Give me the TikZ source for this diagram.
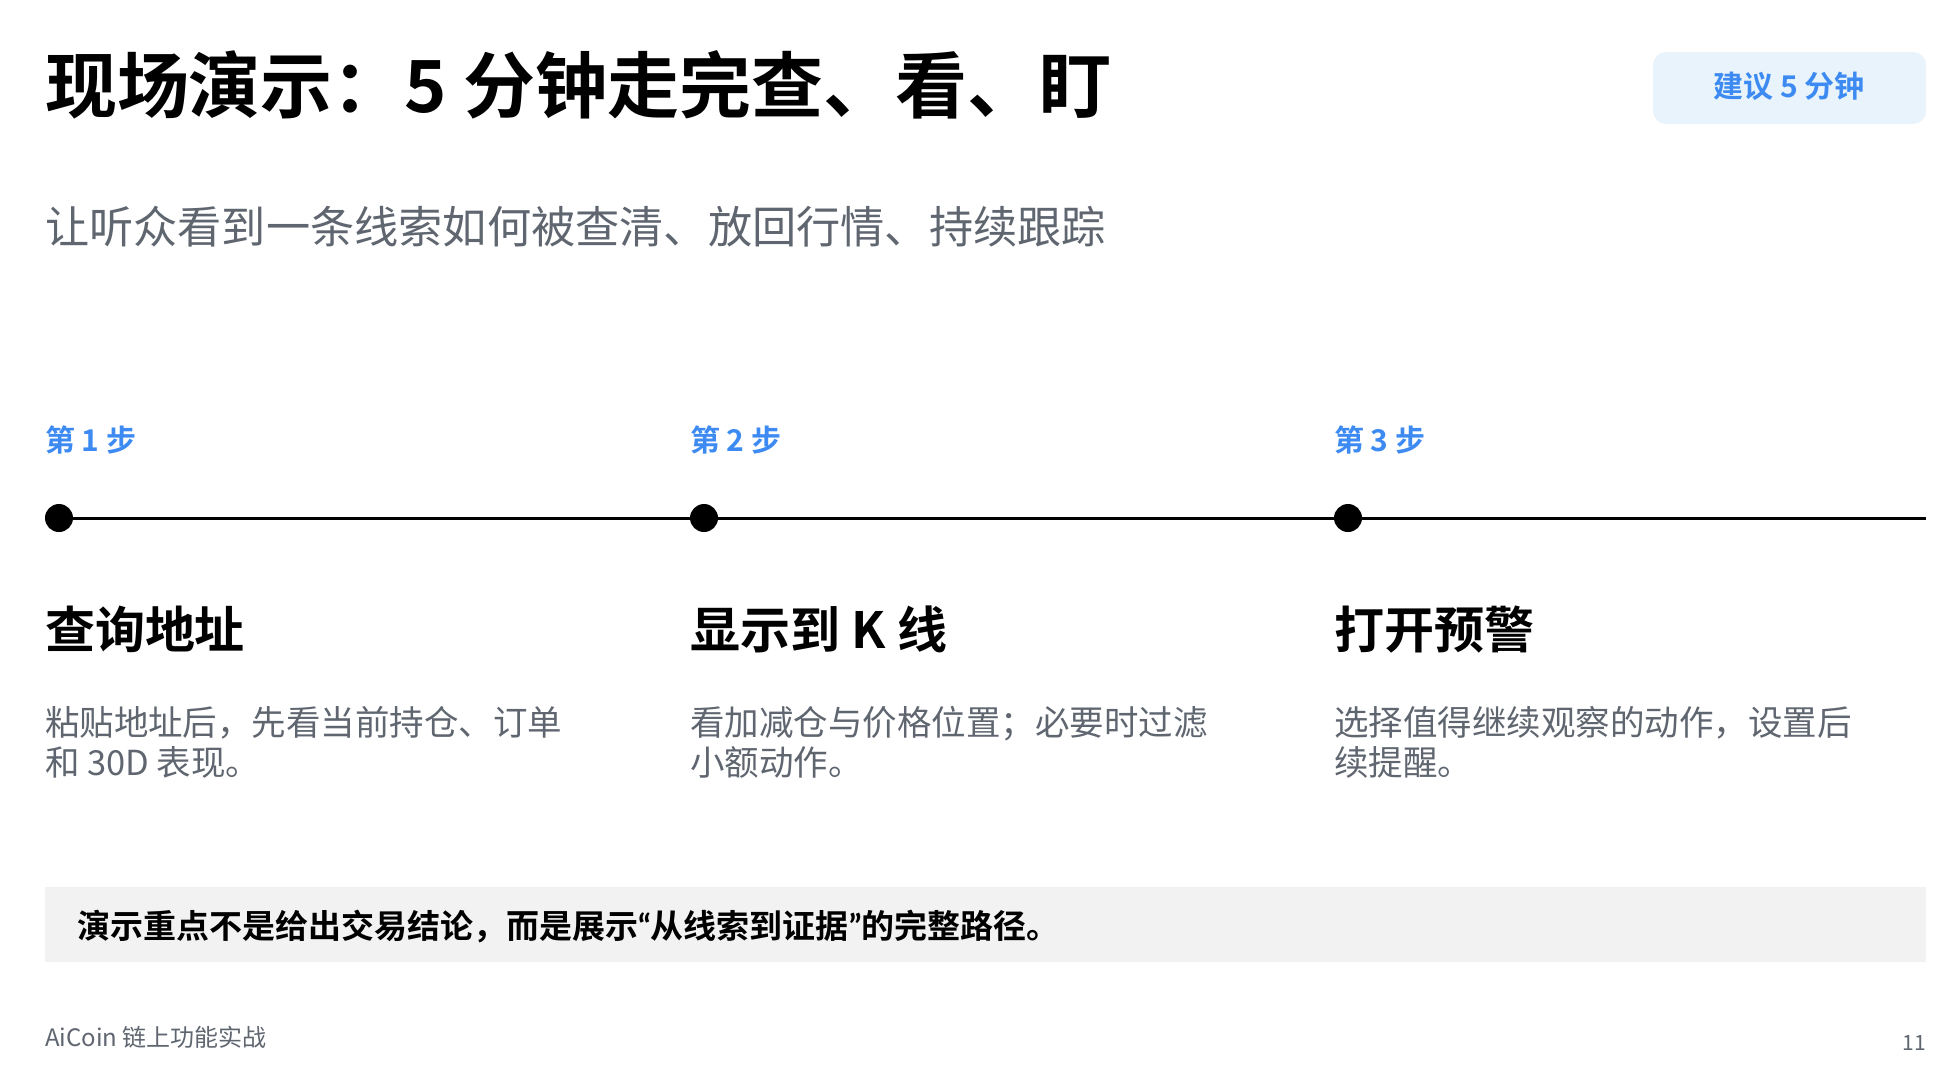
\documentclass[tikz,border=0pt]{standalone}
\usepackage{fontspec}
\setmainfont{Noto Sans CJK SC}[BoldFont={Noto Sans CJK SC Bold}]
\newfontfamily\quotefont{Lato}
\definecolor{stepblue}{HTML}{3D8BF2}
\definecolor{badgefill}{HTML}{E8F3FB}
\definecolor{graytext}{HTML}{5F6670}
\definecolor{notefill}{HTML}{F2F2F2}
\tikzset{
  txt/.style={anchor=base west, inner sep=0pt, outer sep=0pt},
  steplabel/.style={txt, font=\bfseries\fontsize{30}{34}\selectfont, text=stepblue},
  steptitle/.style={txt, font=\bfseries\fontsize{50}{58}\selectfont, text=black},
  stepdesc/.style={anchor=north west, inner sep=0pt, outer sep=0pt, align=left, font=\fontsize{34.5}{40}\selectfont, text=graytext},
  dot/.style={circle, fill=black, minimum size=28pt, inner sep=0pt},
}
\begin{document}
\begin{tikzpicture}[x=1pt,y=-1pt]
\useasboundingbox (0,0) rectangle (1957,1071);
\fill[white] (0,0) rectangle (1957,1071);

% title
\node[txt, font=\bfseries\fontsize{72}{80}\selectfont] (title) at (45,112) {现场演示：5 分钟走完查、看、盯};
% badge
\fill[badgefill, rounded corners=13pt] (1653,52) rectangle (1926,124);
\node[anchor=base, inner sep=0pt, font=\bfseries\fontsize{30}{34}\selectfont, text=stepblue] (badge) at (1789,97) {建议 5 分钟};
% subtitle
\node[txt, font=\fontsize{44.2}{50}\selectfont, text=graytext] (sub) at (45,243) {让听众看到一条线索如何被查清、放回行情、持续跟踪};

% step labels
\node[steplabel] (l1) at (45,451) {第 1 步};
\node[steplabel] (l2) at (690,451) {第 2 步};
\node[steplabel] (l3) at (1334,451) {第 3 步};

% timeline
\coordinate (tend) at (1926,518);
\node[dot] (d1) at (59,518) {};
\node[dot] (d2) at (704,518) {};
\node[dot] (d3) at (1348,518) {};
\draw[line width=3pt] (d1) -- (d2) -- (d3) -- (tend);

% step titles
\node[steptitle] (t1) at (45,648) {查询地址};
\node[steptitle] (t2) at (690,648) {显示到 K 线};
\node[steptitle] (t3) at (1334,648) {打开预警};

% descriptions
\node[stepdesc] (s1) at (45,706) {粘贴地址后，先看当前持仓、订单\\和 30D 表现。};
\node[stepdesc] (s2) at (690,706) {看加减仓与价格位置；必要时过滤\\小额动作。};
\node[stepdesc] (s3) at (1334,706) {选择值得继续观察的动作，设置后\\续提醒。};

% note box
\fill[notefill] (45,887) rectangle (1926,962);
\node[txt, font=\bfseries\fontsize{33}{38}\selectfont] (note) at (77,938) {演示重点不是给出交易结论，而是展示{\quotefont “}从线索到证据{\quotefont ”}的完整路径。};

% footer
\node[txt, font=\fontsize{24}{28}\selectfont, text=graytext] (foot) at (45,1046) {AiCoin 链上功能实战};
\node[anchor=base east, inner sep=0pt, font=\fontsize{21}{24}\selectfont, text=graytext] (page) at (1926,1050) {11};
\end{tikzpicture}
\end{document}
